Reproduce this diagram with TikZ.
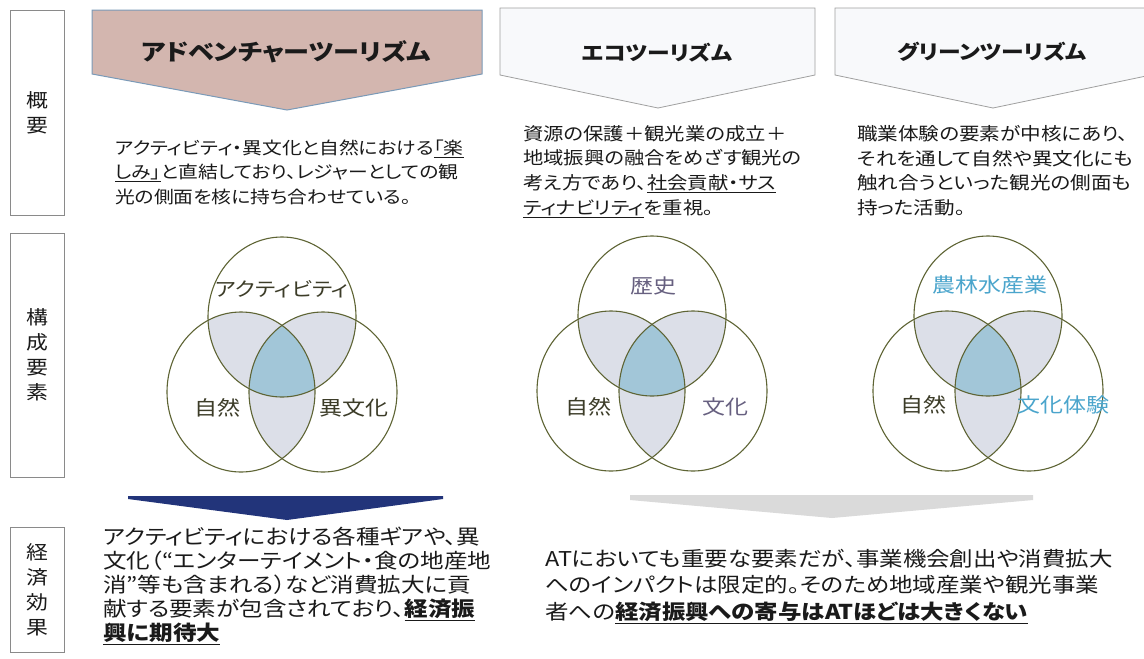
\documentclass[tikz,border=0pt]{standalone}
\usepackage{fontspec}
\setmainfont{Noto Sans CJK JP}[FakeStretch=1.15,RawFeature=+palt]
\definecolor{txt}{HTML}{1A1A1A}
\definecolor{boxgray}{HTML}{8A8A8A}
\definecolor{hdrAT}{HTML}{D3B6AF}
\definecolor{hdrATline}{HTML}{7A9AB8}
\definecolor{hdrOther}{HTML}{F8F9FB}
\definecolor{hdrOtherLine}{HTML}{A0A0A0}
\definecolor{ringcol}{HTML}{5E6434}
\definecolor{pairc}{HTML}{DCDFE8}
\definecolor{tripc}{HTML}{A2C6D8}
\definecolor{olive}{HTML}{3C3C28}
\definecolor{purp}{HTML}{676080}
\definecolor{lblue}{HTML}{4BA5CC}
\definecolor{navy}{HTML}{22347A}
\definecolor{grayarr}{HTML}{DADADA}
\newcommand\myvenn[2]{%
  \begin{scope}
    \clip ({#1},{#2}) ellipse [x radius=74, y radius=80];
    \fill[pairfill] ({#1-41},{#2+75}) ellipse [x radius=74, y radius=80];
    \fill[pairfill] ({#1+41},{#2+75}) ellipse [x radius=74, y radius=80];
  \end{scope}
  \begin{scope}
    \clip ({#1-41},{#2+75}) ellipse [x radius=74, y radius=80];
    \fill[pairfill] ({#1+41},{#2+75}) ellipse [x radius=74, y radius=80];
  \end{scope}
  \begin{scope}
    \clip ({#1},{#2}) ellipse [x radius=74, y radius=80];
    \clip ({#1-41},{#2+75}) ellipse [x radius=74, y radius=80];
    \fill[tripfill] ({#1+41},{#2+75}) ellipse [x radius=74, y radius=80];
  \end{scope}
  \draw[ring] ({#1},{#2}) ellipse [x radius=74, y radius=80];
  \draw[ring] ({#1-41},{#2+75}) ellipse [x radius=74, y radius=80];
  \draw[ring] ({#1+41},{#2+75}) ellipse [x radius=74, y radius=80];
}
\tikzset{
  lblbox/.style={draw=boxgray, line width=0.8pt, minimum width=54pt, align=center,
    inner sep=0pt, text=txt, font=\fontsize{19}{25}\selectfont},
  hdrat/.style={fill=hdrAT, draw=hdrATline, line width=1pt},
  hdrot/.style={fill=hdrOther, draw=hdrOtherLine, line width=0.8pt},
  hdrtext/.style={text=txt, inner sep=0pt},
  ring/.style={draw=ringcol, line width=1.1pt},
  pairfill/.style={fill=pairc},
  tripfill/.style={fill=tripc},
  para/.style={anchor=north west, inner sep=0pt, align=left, text=txt},
  vlabel/.style={inner sep=0pt, font=\fontsize{20}{24}\selectfont},
  atarrow/.style={fill=navy},
  grarrow/.style={fill=grayarr},
}
\begin{document}
\begin{tikzpicture}[x=1pt, y=-1pt]
\lineskiplimit=-100pt
\useasboundingbox (0,0) rectangle (1144,659);
\fill[white] (0,0) rectangle (1144,659);
% left labels
\node[lblbox, minimum height=205pt] (l1) at (37,112.5) {概\\要};
\node[lblbox, minimum height=244pt] (l2) at (37,355) {構\\成\\要\\素};
\node[lblbox, minimum height=125pt] (l3) at (37,589.5) {経\\済\\効\\果};
% headers
\draw[hdrat] (92,10) -- (482,10) -- (482,74) -- (287,110) -- (92,74) -- cycle;
\draw[hdrot] (500,8) -- (815,8) -- (815,75) -- (658,108) -- (500,75) -- cycle;
\draw[hdrot] (835,8) -- (1151,8) -- (1151,75) -- (993,108) -- (835,75) -- cycle;
\node[hdrtext, font=\bfseries\fontsize{22.7}{27}\selectfont] (hat) at (286,52) {アドベンチャーツーリズム};
\node[hdrtext, font=\bfseries\fontsize{19.8}{24}\selectfont] (heco) at (657,53) {エコツーリズム};
\node[hdrtext, font=\bfseries\fontsize{19.8}{24}\selectfont] (hgr) at (992,52) {グリーンツーリズム};
% descriptions
\node[para, font=\fontsize{17.2}{24.5}\selectfont] (dat) at (115,139.5)
  {アクティビティ・異文化と自然における\underline{「楽}\\\underline{しみ」}と直結しており、レジャーとしての観\\光の側面を核に持ち合わせている。};
\node[para, font=\fontsize{17.7}{24.7}\selectfont] (deco) at (523,125)
  {資源の保護＋観光業の成立＋\\地域振興の融合をめざす観光の\\考え方であり、\underline{社会貢献・サス}\\\underline{ティナビリティ}を重視。};
\node[para, font=\fontsize{17.9}{24.7}\selectfont] (dgr) at (857,125)
  {職業体験の要素が中核にあり、\\それを通して自然や異文化にも\\触れ合うといった観光の側面も\\持った活動。};
% venns
\myvenn{282}{317}
\myvenn{652}{316}
\myvenn{988}{316}
\node[vlabel, text=olive, font=\fontsize{19.4}{24}\selectfont] (va1) at (282,289) {アクティビティ};
\node[vlabel, text=olive] (va2) at (217,408) {自然};
\node[vlabel, text=olive] (va3) at (354,408) {異文化};
\node[vlabel, text=purp] (ve1) at (653,286) {歴史};
\node[vlabel, text=olive] (ve2) at (588,407) {自然};
\node[vlabel, text=purp] (ve3) at (725,407) {文化};
\node[vlabel, text=lblue] (vg1) at (990,285) {農林水産業};
\node[vlabel, text=olive] (vg2) at (923,405) {自然};
\node[vlabel, text=lblue] (vg3) at (1063,405) {文化体験};
% bottom arrows
\fill[atarrow] (128,496) -- (443,496) -- (443,499) -- (287,520) -- (128,499) -- cycle;
\fill[grarrow] (630,495) -- (1033,495) -- (1033,500) -- (832,518) -- (630,500) -- cycle;
% effects
\node[para, font=\fontsize{20.5}{24}\selectfont] (eat) at (103,527)
  {アクティビティにおける各種ギアや、異\\文化（“エンターテイメント・食の地産地\\消”等も含まれる）など消費拡大に貢\\献する要素が包含されており、\underline{\textbf{経済振}}\\\underline{\textbf{興に期待大}}};
\node[para, font=\fontsize{20.4}{26.5}\selectfont] (eot) at (545,549)
  {ATにおいても重要な要素だが、事業機会創出や消費拡大\\へのインパクトは限定的。そのため地域産業や観光事業\\者への\underline{\textbf{経済振興への寄与はATほどは大きくない}}};
\end{tikzpicture}
\end{document}
